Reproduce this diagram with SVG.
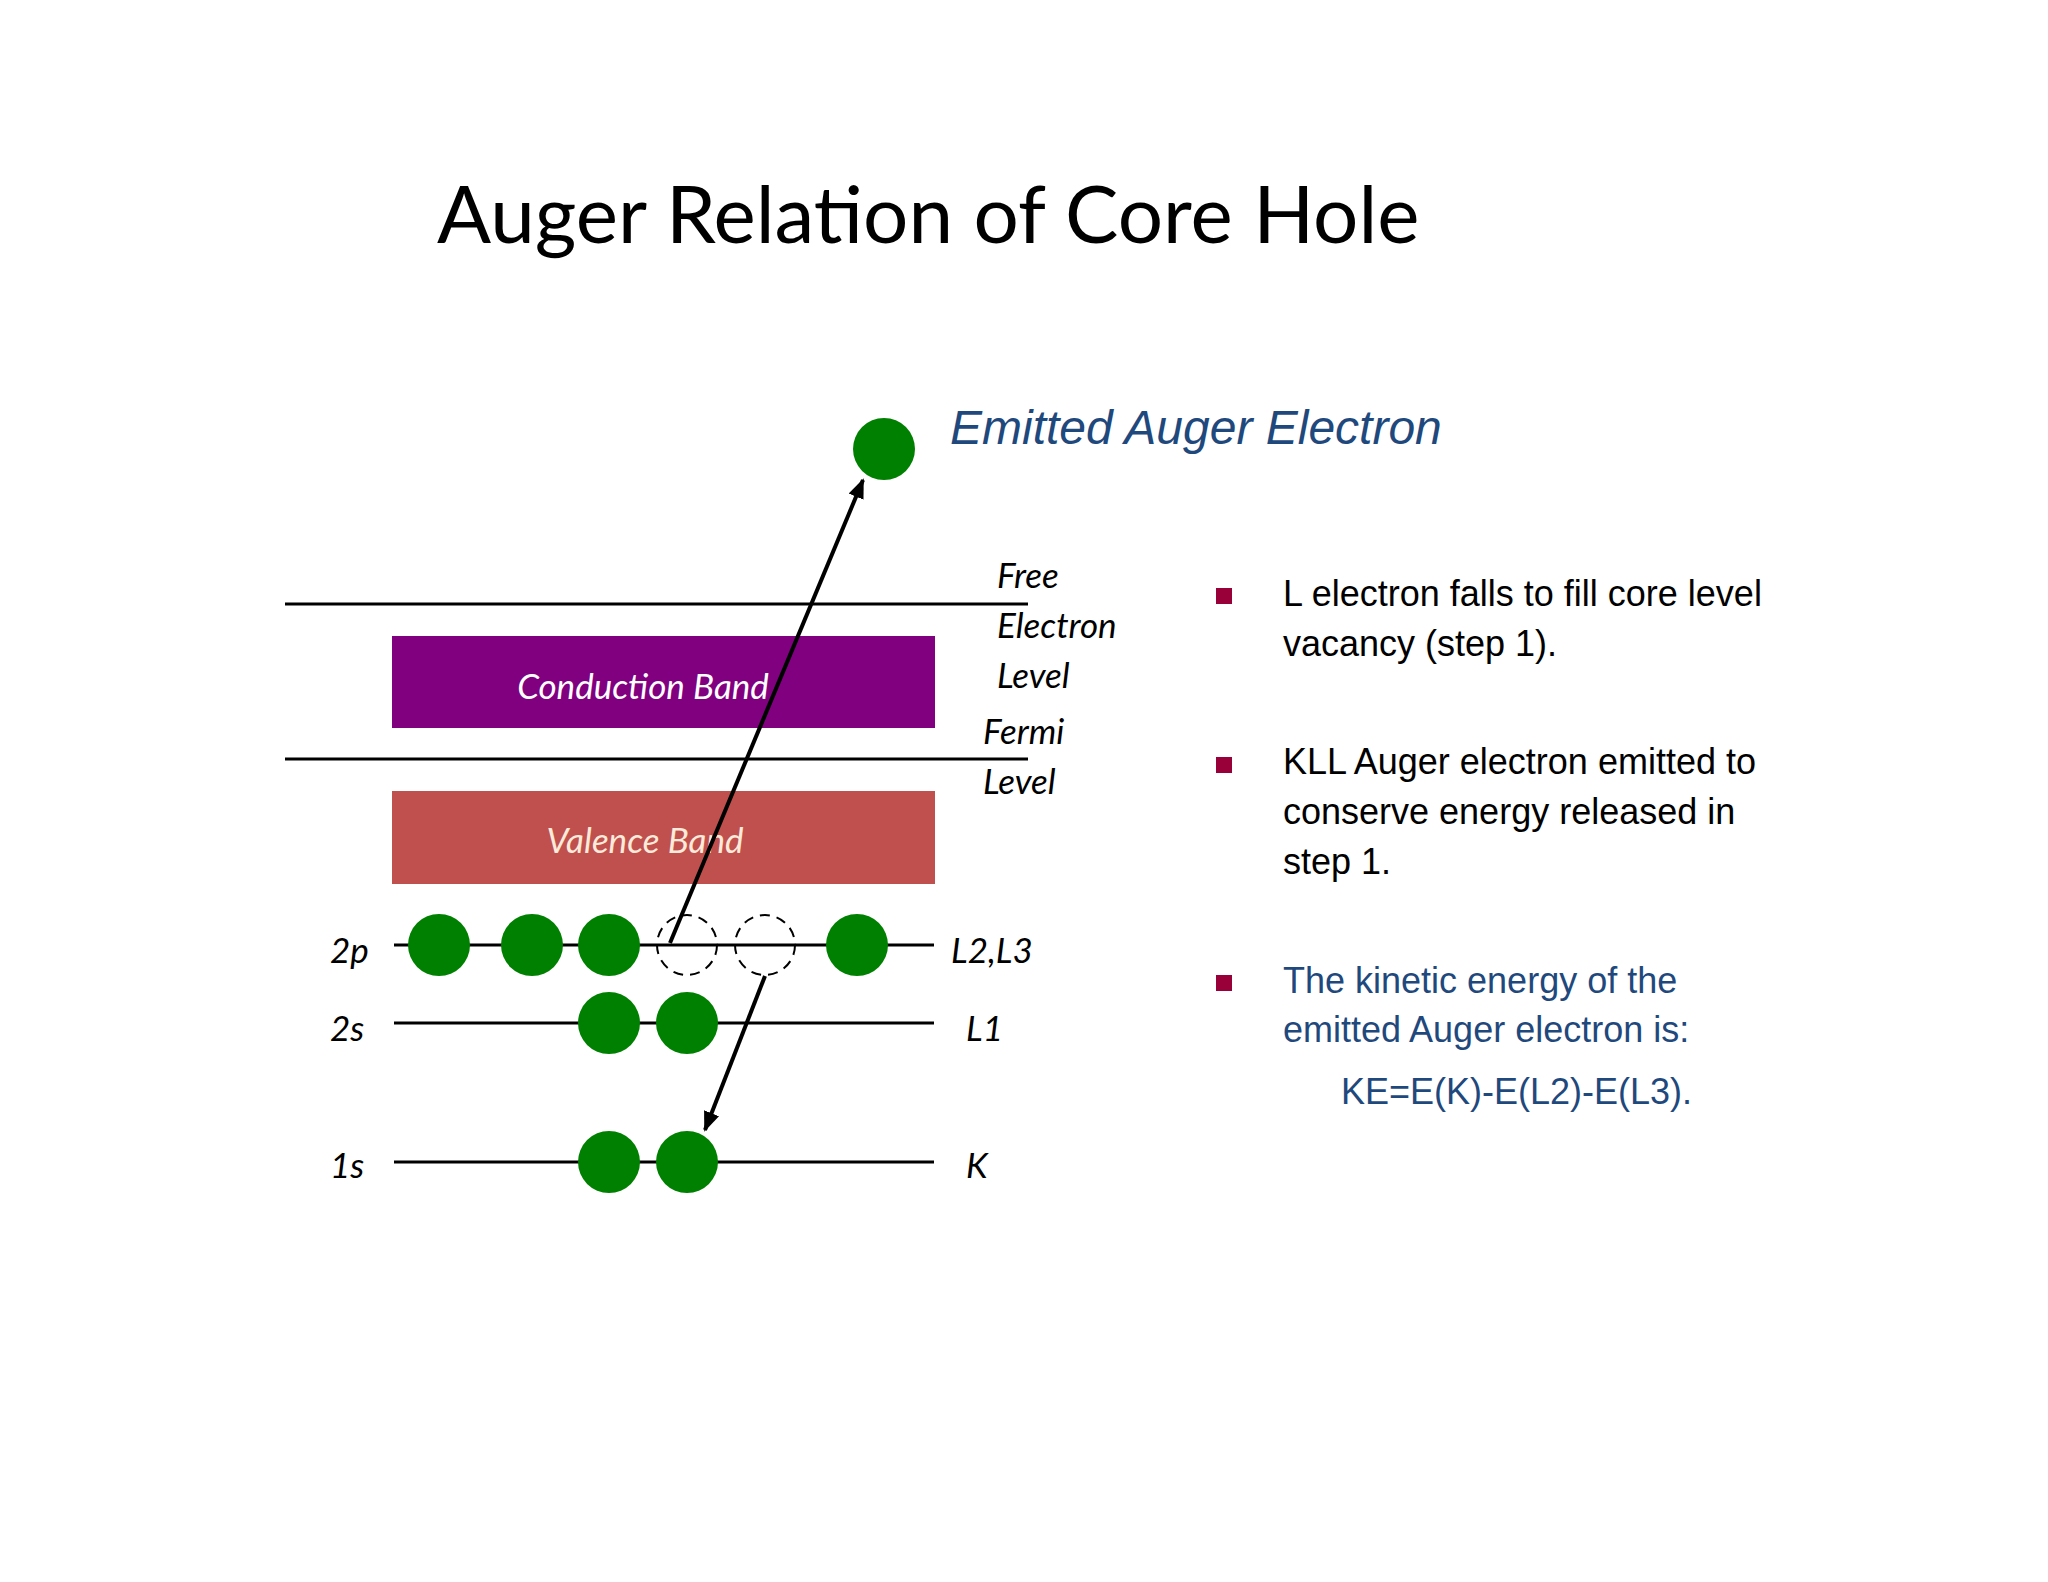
<svg xmlns="http://www.w3.org/2000/svg" width="2048" height="1582" viewBox="0 0 2048 1582">
<defs>
<style>
.lvl{stroke:#000;stroke-width:3}
.e{fill:#008000}
.h{fill:none;stroke:#000;stroke-width:2;stroke-dasharray:10,7}
.lab{font-family:Lato,"Open Sans",sans-serif;font-style:italic;font-size:35px;fill:#000}
.bt{font-family:"Liberation Sans",Arial,sans-serif;font-size:36px}
.sq{fill:#99003A}
</style>
<marker id="ar" viewBox="0 0 10 10" refX="9" refY="5" markerWidth="5" markerHeight="5" orient="auto"><path d="M0,1 L10,5 L0,9 z" fill="#000"/></marker>
</defs>
<rect width="2048" height="1582" fill="#fff"/>
<text x="437" y="243" font-family="Lato,'Open Sans',sans-serif" font-size="80" fill="#000">Auger Relation of Core Hole</text>
<g id="free"><line class="lvl" x1="285" y1="604" x2="1028" y2="604"/>
<text class="lab" x="997" y="588">Free</text><text class="lab" x="997" y="638">Electron</text><text class="lab" x="997" y="688">Level</text></g>
<g id="conduction"><rect x="392" y="636" width="543" height="92" fill="#800080"/><text x="643" y="699" class="lab" fill="#fff" style="fill:#fff" text-anchor="middle">Conduction Band</text></g>
<g id="fermi"><line class="lvl" x1="285" y1="759" x2="1028" y2="759"/><text class="lab" x="983" y="744">Fermi</text><text class="lab" x="983" y="794">Level</text></g>
<g id="valence"><rect x="392" y="791" width="543" height="93" fill="#C0504D"/><text x="645" y="853" class="lab" style="fill:#FDEADA" text-anchor="middle">Valence Band</text></g>
<g id="l23"><line class="lvl" x1="394" y1="945" x2="934" y2="945"/><text class="lab" x="330" y="963">2p</text><text class="lab" x="951" y="963">L2,L3</text>
<ellipse class="e" cx="439" cy="945" rx="31" ry="31"/><ellipse class="e" cx="532" cy="945" rx="31" ry="31"/><ellipse class="e" cx="609" cy="945" rx="31" ry="31"/><ellipse class="h" cx="687" cy="945" rx="30" ry="30"/><ellipse class="h" cx="765" cy="945" rx="30" ry="30"/><ellipse class="e" cx="857" cy="945" rx="31" ry="31"/></g>
<g id="l1"><line class="lvl" x1="394" y1="1023" x2="934" y2="1023"/><text class="lab" x="330" y="1041">2s</text><text class="lab" x="966" y="1041">L1</text>
<ellipse class="e" cx="609" cy="1023" rx="31" ry="31"/><ellipse class="e" cx="687" cy="1023" rx="31" ry="31"/></g>
<g id="k"><line class="lvl" x1="394" y1="1162" x2="934" y2="1162"/><text class="lab" x="330" y="1178">1s</text><text class="lab" x="966" y="1178">K</text>
<ellipse class="e" cx="609" cy="1162" rx="31" ry="31"/><ellipse class="e" cx="687" cy="1162" rx="31" ry="31"/></g>
<g id="emitted"><ellipse class="e" cx="884" cy="449" rx="31" ry="31"/><text x="950" y="444" font-family="'Liberation Sans',Arial,sans-serif" font-style="italic" font-size="48" fill="#1F497D">Emitted Auger Electron</text></g>
<g id="connectors" stroke="#000" stroke-width="4" fill="none">
<line x1="670" y1="943" x2="863" y2="480" marker-end="url(#ar)"/>
<line x1="765" y1="976" x2="705" y2="1130" marker-end="url(#ar)"/>
</g>
<g id="bullets">
<rect class="sq" x="1216" y="588" width="16" height="16"/>
<text class="bt" x="1283" y="606">L electron falls to fill core level</text><text class="bt" x="1283" y="656">vacancy (step 1).</text>
<rect class="sq" x="1216" y="757" width="16" height="16"/>
<text class="bt" x="1283" y="774">KLL Auger electron emitted to</text><text class="bt" x="1283" y="824">conserve energy released in</text><text class="bt" x="1283" y="874">step 1.</text>
<rect class="sq" x="1216" y="975" width="16" height="16"/>
<text class="bt" x="1283" y="993" fill="#1F497D">The kinetic energy of the</text><text class="bt" x="1283" y="1042" fill="#1F497D">emitted Auger electron is:</text><text class="bt" x="1341" y="1104" fill="#1F497D">KE=E(K)-E(L2)-E(L3).</text>
</g>
</svg>
